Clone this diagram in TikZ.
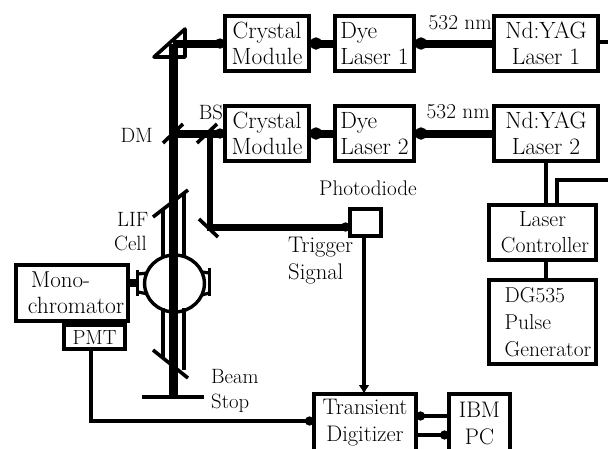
\documentclass[tikz,border=0pt]{standalone}
\usepackage{fontspec}
\usetikzlibrary{positioning,arrows.meta,calc}

\begin{document}
\begin{tikzpicture}[
  x=1pt, y=-1pt,
  font=\fontsize{23.5}{26}\selectfont,
  box/.style={draw, line width=3.6pt, align=center, inner sep=0pt, outer sep=0pt,
              minimum height=55pt},
  xtal/.style={box, minimum width=84pt},
  dye/.style={box, minimum width=79pt, align=left},
  yag/.style={box, minimum width=104pt},
  lab/.style={inner sep=0pt, font=\fontsize{20.7}{27}\selectfont},
  widelab/.style={lab, font=\fontsize{21.3}{27}\selectfont},
  beam/.style={line width=8pt},
  beamarr/.style={line width=8pt, -{Circle[length=12pt]}, shorten >=1pt},
  wire/.style={line width=3.2pt},
  wirearr/.style={line width=3.2pt, -{Circle[length=9pt]}},
  optic/.style={line width=3.6pt},
  node distance=35pt and 26pt]
\clip (0,0) rectangle (608,448);

% upper and lower laser rows
\node[xtal] (crystala) at (267,43.5) {Crystal\\Module};
\node[dye, right=of crystala] (dyea) {Dye\\Laser 1};
\node[yag, right=80pt of dyea] (yaga) {Nd:YAG\\Laser 1};
\node[xtal, below=of crystala] (crystalb) {Crystal\\Module};
\node[dye, right=of crystalb] (dyeb) {Dye\\Laser 2};
\node[yag, right=80pt of dyeb] (yagb) {Nd:YAG\\Laser 2};
\foreach \a/\b in {yaga/dyea, dyea/crystala, yagb/dyeb, dyeb/crystalb} \draw[beamarr] (\a) -- (\b);
\node[widelab, anchor=east] (nma) at (492,23) {532 nm};
\node[widelab, anchor=east] (nmb) at (490,112) {532 nm};

% electronics on the right
\node[box, font=\fontsize{21.8}{26}\selectfont, minimum width=107pt, below=44pt of yagb, xshift=-3.5pt] (ctrl)
  {Laser\\\hspace*{5pt}Controller};
\node[box, font=\fontsize{21.5}{27}\selectfont, minimum width=107pt, minimum height=84pt,
      below=20pt of ctrl, align=left] (pulse)
  {\hspace*{11pt}DG535\\\hspace*{11pt}Pulse\\\hspace*{11pt}Generator};
\coordinate (yagout) at (608,42);
\coordinate (ctrlout) at (608,180);
\coordinate (ctrlup) at (557,180);
\draw[wire] (yaga.east |- yagout) -- (yagout);
\draw[wire] (yagb.south -| 546,0) -- (ctrl.north -| 546,0);
\draw[wire] (ctrl.north -| ctrlup) -- (ctrlup) -- (ctrlout);
\draw[wire] (ctrl.south -| 546,0) -- (pulse.north -| 546,0);

% main beam and turning optics
\coordinate (topturn) at (173,43.5);
\coordinate (beamend) at (173,397);
\coordinate (splitb) at (210,133.5);
\coordinate (splitc) at (210,227);
\draw[line width=9pt] (topturn) -- (beamend);
\draw[beam, -{Circle[length=10pt]}] (topturn) -- (crystala.west);
\draw[beam, -{Circle[length=10pt]}] (173,133.5) -- (crystalb.west);
\draw[optic, line join=round] (154,57) -- (185,29) -- (185,57) -- cycle;
\draw[optic] (163,143) -- (183,124);
\draw[optic] (197,143) -- (217,124);
\draw[optic] (199,219) -- (218,237);
\node[lab, anchor=east] (dmlab) at (153,135) {DM};
\node[lab] (bslab) at (211,112) {BS};

% photodiode and trigger path
\node[box, minimum width=31pt, minimum height=27pt] (diode) at (365.5,222.5) {};
\draw[line width=6pt] (splitb) -- (splitc);
\draw[beam, line width=7pt, -{Circle[length=9pt]}] ($(splitc)+(-3,0)$) -- (diode.west |- splitc);
\node[lab, font=\fontsize{21.2}{27}\selectfont] (diodelab) at (368,188) {Photodiode};
\node[lab, font=\fontsize{22.6}{27}\selectfont, anchor=west, align=left] (triglab) at (288,261) {Trigger\\Signal};

% cell
\draw[optic] (153,217) -- (188,190);
\draw[optic] (153,350) -- (188,378);
\draw[wire] (163,209) -- (163,258);
\draw[wire] (184,192) -- (184,258);
\draw[wire] (163,308) -- (163,358);
\draw[wire] (184,308) -- (184,370);
\node[draw, line width=3.4pt, circle, minimum size=57pt, inner sep=0pt,
      xscale=1.05] (cell) at (174.5,283.5) {};
\draw[line width=9pt] (173,250) -- (173,318);
\node[lab, anchor=west] (liflab) at (117,219) {LIF};
\node[lab, anchor=west] (celllab) at (114,243) {Cell};
\draw[optic] (137.5,270) -- (137.5,296);
\draw[line width=8pt] (130,283) -- (138,283);
\draw[wire] (138,274) -- (148,273);
\draw[wire] (138,292) -- (148,294);
\draw[optic] (209.5,268) -- (209.5,296);
\draw[wire] (209,273) -- (202,272);
\draw[wire] (209,293) -- (202,295);

% beam stop
\draw[optic] (142,397) -- (204,397);
\node[lab, anchor=west] (beamlab) at (211,377) {Beam};
\node[lab, anchor=west] (stoplab) at (211,403) {Stop};

% detection
\node[box, minimum width=112pt, minimum height=56pt, align=left] (mono) at (72,293)
  {\fontsize{23}{24}\selectfont\hspace*{11pt}Mono-\\\hspace*{8pt}chromator};
\node[box, font=\fontsize{20.5}{24}\selectfont, minimum width=61pt, minimum height=24pt,
      below=4pt of mono, xshift=22.5pt] (pmt) {PMT};
\node[box, font=\fontsize{22.5}{27}\selectfont, minimum width=102pt, minimum height=58pt] (trans) at (365,423) {Transient\\Digitizer};
\node[box, font=\fontsize{22.5}{27}\selectfont, minimum width=61pt, minimum height=58pt, right=33pt of trans] (ibm) {IBM\\PC};
\coordinate (pmtcorner) at (91,421);
\draw[wirearr] (pmt.south -| pmtcorner) -- (pmtcorner) -- (trans.west |- pmtcorner);
\draw[wire, -{Latex[length=9pt,width=11pt]}] (diode.south -| 364,0) -- (trans.north -| 364,0);
\draw[wirearr] (ibm.west |- 0,416) -- (trans.east |- 0,416);
\draw[wirearr] (trans.east |- 0,435) -- (ibm.west |- 0,435);
\end{tikzpicture}
\end{document}
